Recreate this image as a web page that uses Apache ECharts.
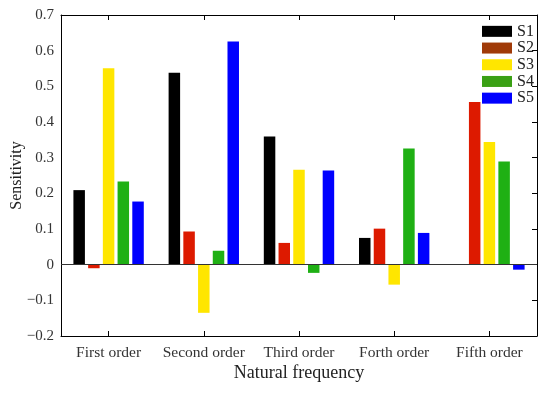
<!DOCTYPE html>
<html>
<head>
<meta charset="utf-8">
<script src="https://cdn.jsdelivr.net/npm/echarts@6/dist/echarts.min.js"></script>
<style>html,body{margin:0;padding:0;background:#fff;}#c{width:550px;height:396px;}</style>
</head>
<body>
<div id="c"></div>
<script>
const categories = ['First order', 'Second order', 'Third order', 'Forth order', 'Fifth order'];
const seriesNames = ['S1', 'S2', 'S3', 'S4', 'S5'];
const s1 = [0.209, 0.538, 0.359, 0.075, 0];
const s2 = [-0.010, 0.093, 0.061, 0.101, 0.456];
const s3 = [0.551, -0.135, 0.266, -0.056, 0.344];
const s4 = [0.233, 0.039, -0.023, 0.326, 0.289];
const s5 = [0.177, 0.626, 0.264, 0.089, -0.014];
const yTicks = [-0.2, -0.1, 0, 0.1, 0.2, 0.3, 0.4, 0.5, 0.6, 0.7];

const barColors = ['#000000', '#dd1a00', '#ffe600', '#1fb014', '#0000ff'];
const legendColors = ['#000000', '#a03a08', '#ffe600', '#3aa014', '#0000ff'];
const values = [s1, s2, s3, s4, s5];
const font = 'Liberation Serif';

const chart = echarts.init(document.getElementById('c'), null, {renderer: 'canvas'});
const series = seriesNames.map((n, i) => ({
  name: n,
  type: 'bar',
  data: values[i],
  barWidth: 11.5,
  barGap: '28%',
  itemStyle: {color: barColors[i]},
  markLine: i === 0 ? {
    silent: true, symbol: 'none', label: {show: false},
    lineStyle: {color: '#333', width: 1, type: 'solid'},
    data: [{yAxis: 0}]
  } : undefined
}));

chart.setOption({
  animation: false,
  backgroundColor: '#fff',
  grid: {left: 61, right: 13, top: 15, bottom: 60, containLabel: false, outerBoundsMode: 'none'},
  legend: {
    orient: 'vertical', left: 477, top: 18,
    itemWidth: 30, itemHeight: 11, itemGap: 0,
    textStyle: {fontFamily: font, fontSize: 16, lineHeight: 16.7, color: '#222'},
    data: seriesNames.map((n, i) => ({name: n, icon: 'rect', itemStyle: {color: legendColors[i]}}))
  },
  xAxis: [{
    type: 'category', data: categories, position: 'bottom',
    name: 'Natural frequency', nameLocation: 'middle', nameGap: 28, nameMoveOverlap: false,
    nameTextStyle: {fontFamily: font, fontSize: 18, color: '#222'},
    axisLine: {onZero: false, lineStyle: {color: '#000', width: 1}},
    axisTick: {show: true, inside: true, alignWithLabel: true, length: 5, lineStyle: {color: '#000'}},
    axisLabel: {interval: 0, fontFamily: font, fontSize: 15.5, color: '#333', margin: 9},
    splitLine: {show: false}
  }, {
    type: 'category', data: categories, position: 'top',
    axisLine: {onZero: false, lineStyle: {color: '#000', width: 1}},
    axisTick: {show: true, inside: true, alignWithLabel: true, length: 5, lineStyle: {color: '#000'}},
    axisLabel: {show: false}, splitLine: {show: false}
  }],
  yAxis: [{
    type: 'value', min: -0.2, max: 0.7, interval: 0.1, position: 'left',
    name: 'Sensitivity', nameLocation: 'middle', nameGap: 36, nameMoveOverlap: false,
    nameTextStyle: {fontFamily: font, fontSize: 16, color: '#222'},
    axisLine: {show: true, onZero: false, lineStyle: {color: '#000', width: 1}},
    axisTick: {show: false},
    axisLabel: {fontFamily: font, fontSize: 15, color: '#333', margin: 7,
      formatter: v => Math.abs(v) < 1e-9 ? '0' : (v < 0 ? '\u2212' + Math.abs(v).toFixed(1) : v.toFixed(1))},
    splitLine: {show: false}
  }, {
    type: 'value', min: -0.2, max: 0.7, interval: 0.1, position: 'right',
    axisLine: {show: true, onZero: false, lineStyle: {color: '#000', width: 1}},
    axisTick: {show: true, inside: true, length: 5, lineStyle: {color: '#000'}},
    axisLabel: {show: false}, splitLine: {show: false}
  }],
  series: series
});
</script>
</body>
</html>
